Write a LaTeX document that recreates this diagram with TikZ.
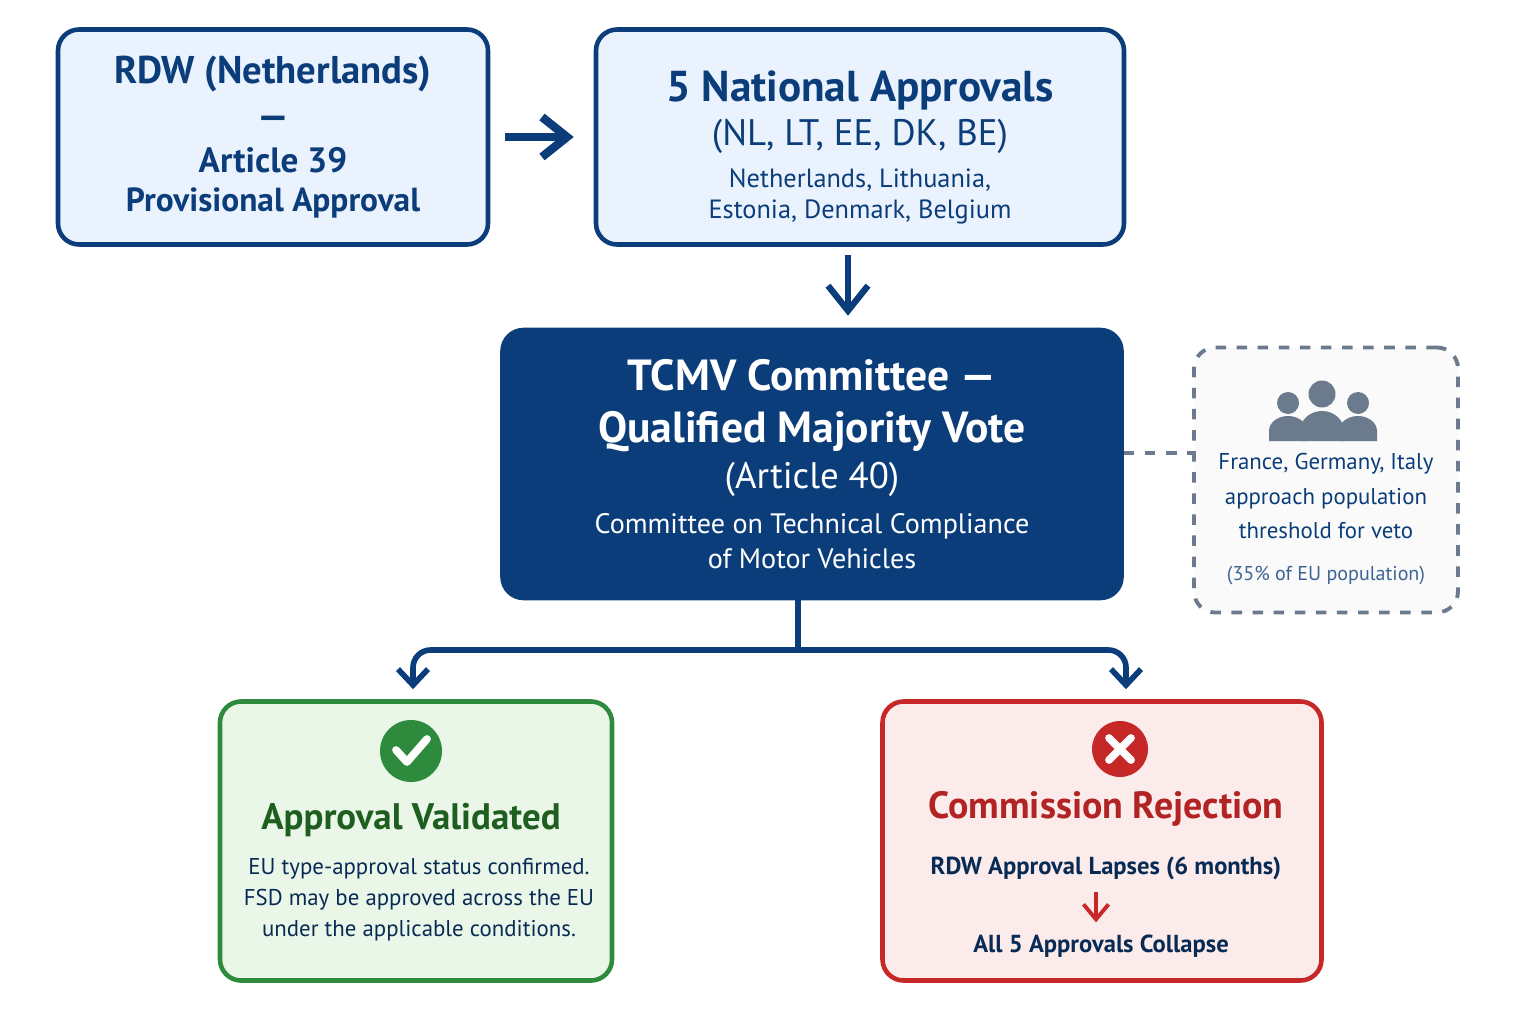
\documentclass[tikz,border=0pt]{standalone}
\usepackage{fontspec}
\setmainfont{PT Sans}
\usetikzlibrary{positioning}
\usetikzlibrary{arrows.meta}
\definecolor{navy}{HTML}{0B3D7A}
\definecolor{lightblue}{HTML}{EAF3FD}
\definecolor{okgreen}{HTML}{2E8B3E}
\definecolor{darkgreen}{HTML}{1E5E1E}
\definecolor{lightgreen}{HTML}{EAF6E8}
\definecolor{badred}{HTML}{C62828}
\definecolor{lightred}{HTML}{FCEBEB}
\definecolor{greyicon}{HTML}{6B7A8C}
\newcommand{\fs}[1]{\fontsize{#1pt}{\dimexpr #1pt*12/10\relax}\selectfont}
\begin{document}
\begin{tikzpicture}[
    box/.style={draw=navy, line width=1.3pt, rounded corners=6pt, fill=lightblue, align=center, text=navy},
    flow/.style={-{Straight Barb[length=2.5mm,width=4mm]}, navy, line width=1.8pt},
    split arrow/.style={-{Straight Barb[length=1.6mm,width=3mm]}, navy, line width=1.6pt, rounded corners=5pt}
  ]
  \useasboundingbox (0,0) rectangle (15.36,10.24);
  % upper row
  \node[box, font=\fs{11}, minimum width=4.3cm, minimum height=2.15cm] (rdw) at (2.73,8.87)
    {{\bfseries RDW (Netherlands)}\\[0pt]
     {\bfseries ---}\\[-1pt]
     {\fs{10}\bfseries Article 39}\\[-2pt] {\fs{9.5}\bfseries Provisional Approval}};
  \node[box, minimum width=5.28cm, minimum height=2.15cm] (national) at (8.60,8.87) {};
  \node[align=center, text=navy, font=\fs{12.3}] (nationaltxt) at (8.60,8.77)
    {{\bfseries 5 National Approvals}\\[-2pt]
     {\fs{10.5}(NL, LT, EE, DK, BE)}\\[-3pt]
     {\fs{7.5}Netherlands, Lithuania,}\\[-6pt] {\fs{7.5}Estonia, Denmark, Belgium}};
  % committee
  \node[box, fill=navy, text=white, font=\fs{12.4}, minimum width=6.19cm, minimum height=2.68cm] (tcmv) at (8.12,5.60)
    {{\bfseries TCMV Committee ---}\\[0pt]
     {\bfseries Qualified Majority Vote}\\[-2pt]
     {\fs{10.5}(Article 40)}\\[-2pt]
     {\fs{8}Committee on Technical Compliance}\\[-5pt] {\fs{8}of Motor Vehicles}};
  \node[draw=greyicon, dashed, line width=1.1pt, rounded corners=6pt, fill=gray!4,
        minimum width=2.64cm, minimum height=2.65cm] (veto) at (13.26,5.44) {};
  \node[align=center, text=navy, font=\fs{6.5}] (vetotxt) at (13.26,5.05)
    {France, Germany, Italy\\[2pt] approach population\\[2pt] threshold for veto\\[4pt]
     {\fs{5.7}\color{navy!80}(35\% of EU population)}};
  % people icon
  \begin{scope}[fill=greyicon]
    \fill (12.88,6.21) circle (0.11); \fill (13.58,6.21) circle (0.11);
    \fill (12.69,5.83) -- (12.69,5.93) arc (180:0:0.19 and 0.15) -- (13.07,5.83) -- cycle;
    \fill (13.39,5.83) -- (13.39,5.93) arc (180:0:0.19 and 0.15) -- (13.77,5.83) -- cycle;
    \fill (13.22,6.30) circle (0.135);
    \fill (13.00,5.83) -- (13.00,5.93) arc (180:0:0.22 and 0.2) -- (13.44,5.83) -- cycle;
  \end{scope}
  % outcomes
  \node[draw=okgreen, line width=1.3pt, rounded corners=6pt, fill=lightgreen,
        minimum width=3.92cm, minimum height=2.79cm] (approved) at (4.16,1.83) {};
  \node[draw=badred, line width=1.3pt, rounded corners=6pt, fill=lightred,
        minimum width=4.39cm, minimum height=2.79cm] (rejected) at (11.02,1.83) {};
  \node[circle, fill=okgreen, minimum size=0.62cm] (check) at (4.11,2.73) {};
  \draw[white, line width=2.2pt, line cap=round, line join=round]
    (3.96,2.74) -- (4.07,2.62) -- (4.27,2.85);
  \node[circle, fill=badred, minimum size=0.56cm] (cross) at (11.20,2.75) {};
  \draw[white, line width=2.2pt, line cap=round] (11.09,2.64) -- (11.31,2.86) (11.09,2.86) -- (11.31,2.64);
  \node[align=center, text=darkgreen, font=\fs{10.5}\bfseries] (apptitle) at (4.11,2.04) {Approval Validated};
  \node[align=center, text=navy!70!black, font=\fs{6.5}] (apptxt) at (4.19,1.24)
    {EU type-approval status confirmed.\\[1pt] FSD may be approved across the EU\\[1pt] under the applicable conditions.};
  \node[align=center, text=badred!90!black, font=\fs{10.8}\bfseries] (rejtitle) at (11.06,2.15) {Commission Rejection};
  \node[text=navy!70!black, font=\fs{7}\bfseries] (lapse) at (11.06,1.56) {RDW Approval Lapses (6 months)};
  \node[text=navy!70!black, font=\fs{7}\bfseries] (collapse) at (11.01,0.78) {All 5 Approvals Collapse};
  \draw[-{Straight Barb[length=1.5mm,width=2.5mm]}, badred, line width=1.1pt] (lapse.south -| 10.96,0) -- (collapse.north -| 10.96,0);
  % connectors
  \draw[flow, line width=2.4pt] ([xshift=0.15cm]rdw.east) -- ([xshift=-0.2cm]national.west);
  \coordinate (ndown) at (8.48,7.69);
  \draw[flow, shorten >=0.12cm] (ndown) -- (ndown |- tcmv.north);
  \coordinate (split) at (7.98,3.74);
  \draw[navy, line width=1.6pt] (tcmv.south -| split) -- (split);
  \draw[split arrow] (split) -| ([yshift=0.1cm]approved.north -| 4.13,0);
  \draw[split arrow] (split) -| ([yshift=0.1cm]rejected.north -| 11.26,0);
  \draw[greyicon, dashed, line width=1.3pt] (tcmv.east |- 0,5.71) -- (veto.west |- 0,5.71);
\end{tikzpicture}
\end{document}
